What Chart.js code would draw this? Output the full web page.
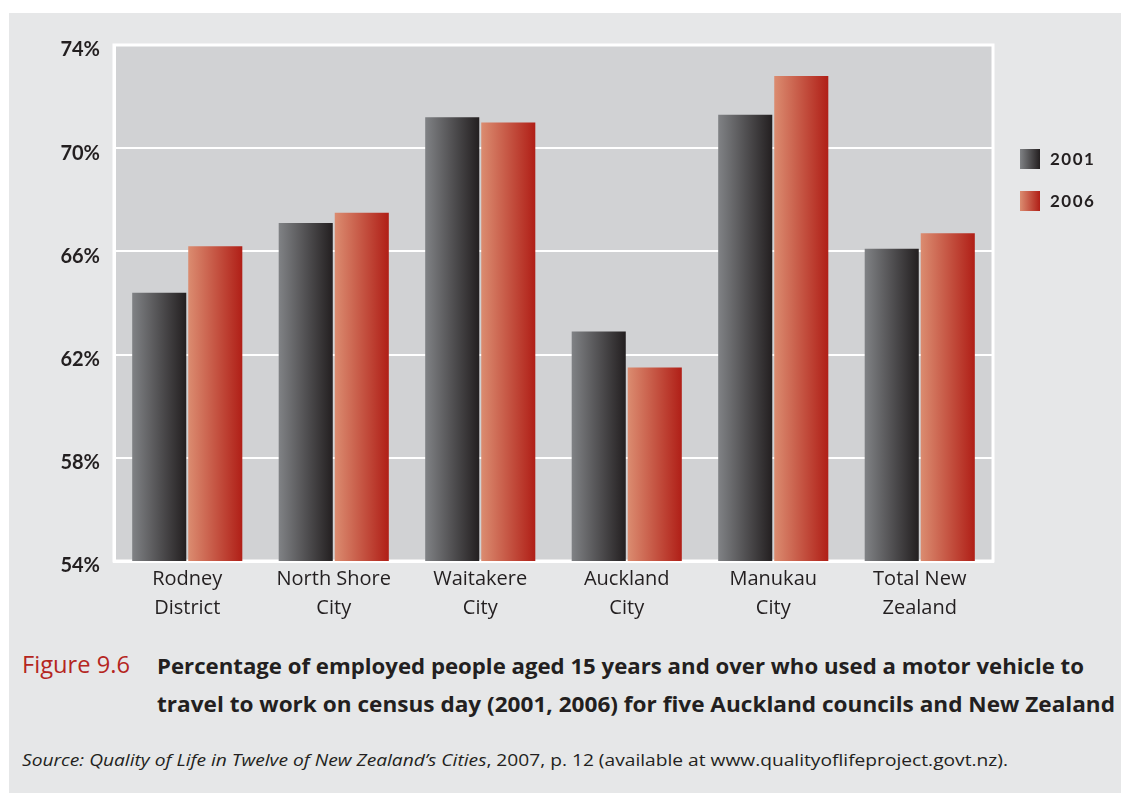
<!DOCTYPE html>
<html>
<head>
<meta charset="utf-8">
<script src="https://cdn.jsdelivr.net/npm/chart.js@4.4.1/dist/chart.umd.min.js"></script>
<style>
  html, body { margin: 0; padding: 0; background: #ffffff; }
  body { width: 1121px; height: 793px; position: relative; overflow: hidden; }
  #fondo { position: absolute; left: 9px; top: 13px; right: 0; bottom: 0; background: #e6e7e8; }
  #grafica { position: absolute; left: 0; top: 0; }
  #leyenda { position: absolute; left: 1020px; top: 149px; font-family: Lato, sans-serif; font-weight: 700;
             font-size: 17px; letter-spacing: 1.5px; color: #231f20; }
  .item { position: absolute; left: 0; height: 20px; line-height: 20px; white-space: nowrap; }
  .item span.caja { position: absolute; left: 0; top: 0; width: 20px; height: 20px; }
  .item span.txt { position: absolute; left: 30px; top: 0; }
  .linea { position: absolute; white-space: nowrap; transform-origin: 0 0; }
  .fig { font-family: "Open Sans", sans-serif; font-size: 23px; color: #b5261e; line-height: 38px; }
  .tit { font-family: "Open Sans", sans-serif; font-weight: 700; font-size: 22px; color: #231f20; line-height: 38px; }
  .src { font-family: "Open Sans", sans-serif; font-size: 17px; color: #231f20; line-height: 24px; }
</style>
</head>
<body>
<div id="fondo"></div>
<canvas id="grafica" width="1121" height="640"></canvas>
<div id="leyenda"></div>

<div class="linea fig" data-w="108" style="left:22px; top:645px;">Figure 9.6</div>
<div class="linea tit" data-w="927" style="left:157px; top:646px;">Percentage of employed people aged 15 years and over who used a motor vehicle to</div>
<div class="linea tit" data-w="958" style="left:157px; top:684px;">travel to work on census day (2001, 2006) for five Auckland councils and New Zealand</div>
<div class="linea src" data-w="986" style="left:22px; top:748px;"><i>Source: Quality of Life in Twelve of New Zealand’s Cities</i>, 2007, p. 12 (available at www.qualityoflifeproject.govt.nz).</div>

<script>
// Datos
const categorias = [
    ["Rodney", "District"],
    ["North Shore", "City"],
    ["Waitakere", "City"],
    ["Auckland", "City"],
    ["Manukau", "City"],
    ["Total New", "Zealand"]
];
const series = ["2001", "2006"];
const valores2001 = [64.4, 67.1, 71.2, 62.9, 71.3, 66.1];
const valores2006 = [66.2, 67.5, 71.0, 61.5, 72.8, 66.7];
const ejeY = [54, 58, 62, 66, 70, 74];

// Colores del degradado (izquierda -> derecha)
const colores = [
    ["#808285", "#231f20"],
    ["#db8c70", "#b01f17"]
];

// Fondo gris del area y marco blanco
const fondoPlugin = {
    id: 'fondo',
    beforeDraw(chart){
        const a = chart.chartArea;
        const ctx = chart.ctx;
        ctx.save();
        ctx.fillStyle = '#d1d2d4';
        ctx.fillRect(a.left, a.top, a.right - a.left, a.bottom - a.top);
        ctx.strokeStyle = '#ffffff';
        ctx.lineWidth = 3;
        ctx.strokeRect(a.left, a.top, a.right - a.left, a.bottom - a.top);
        ctx.restore();
    }
};

// Degradado horizontal en cada barra
const degradadoPlugin = {
    id: 'degradado',
    beforeDatasetsDraw(chart){
        const ctx = chart.ctx;
        chart.data.datasets.forEach((ds, i) => {
            const meta = chart.getDatasetMeta(i);
            meta.data.forEach(el => {
                const p = el.getProps(['x', 'width'], true);
                const g = ctx.createLinearGradient(p.x - p.width / 2, 0, p.x + p.width / 2, 0);
                g.addColorStop(0, colores[i][0]);
                g.addColorStop(1, colores[i][1]);
                el.options.backgroundColor = g;
            });
        });
    }
};

const ctx = document.getElementById('grafica');

new Chart(ctx, {
    type: 'bar',
    data: {
        labels: categorias,
        datasets: [{
            label: series[0],
            data: valores2001,
            backgroundColor: () => colores[0][1]
        },
        {
            label: series[1],
            data: valores2006,
            backgroundColor: () => colores[1][1]
        }]
    },
    options: {
        responsive: false,
        animation: false,
        devicePixelRatio: 1,
        categoryPercentage: 0.765,
        barPercentage: 0.965,
        layout: {
            padding: { top: 45, left: 0, right: 128, bottom: 0 }
        },
        plugins: {
            legend: { display: false },
            tooltip: { enabled: false }
        },
        scales: {
            x: {
                afterFit: (s) => { s.height = 79; },
                grid: { display: false },
                border: { display: true, color: '#ffffff', width: 3 },
                ticks: {
                    color: '#231f20',
                    padding: -4,
                    maxRotation: 0,
                    font: { family: 'Open Sans', size: 20, lineHeight: 1.45 }
                }
            },
            y: {
                min: 54,
                max: 74,
                afterFit: (s) => { s.width = 114; },
                afterBuildTicks: (s) => { s.ticks = ejeY.map(v => ({ value: v })); },
                grid: { color: '#ffffff', lineWidth: 2, drawTicks: false },
                border: { display: true, color: '#ffffff', width: 3 },
                ticks: {
                    color: '#231f20',
                    padding: 14,
                    labelOffset: 5,
                    font: { family: 'Lato', size: 20, weight: 'bold' },
                    callback: (v) => v + '%'
                }
            }
        }
    },
    plugins: [fondoPlugin, degradadoPlugin]
});

// Leyenda a la derecha
const leyenda = document.getElementById('leyenda');
series.forEach((s, i) => {
    const d = document.createElement('div');
    d.className = 'item';
    d.style.top = (i * 42) + 'px';
    d.innerHTML = `<span class="caja" style="background: linear-gradient(to right, ${colores[i][0]}, ${colores[i][1]});"></span><span class="txt">${s}</span>`;
    leyenda.appendChild(d);
});

// Ajusta el ancho de las lineas de texto al original
document.querySelectorAll('.linea[data-w]').forEach(el => {
    const w = el.getBoundingClientRect().width;
    const k = parseFloat(el.dataset.w) / w;
    el.style.transform = `scaleX(${k})`;
});
</script>
</body>
</html>
